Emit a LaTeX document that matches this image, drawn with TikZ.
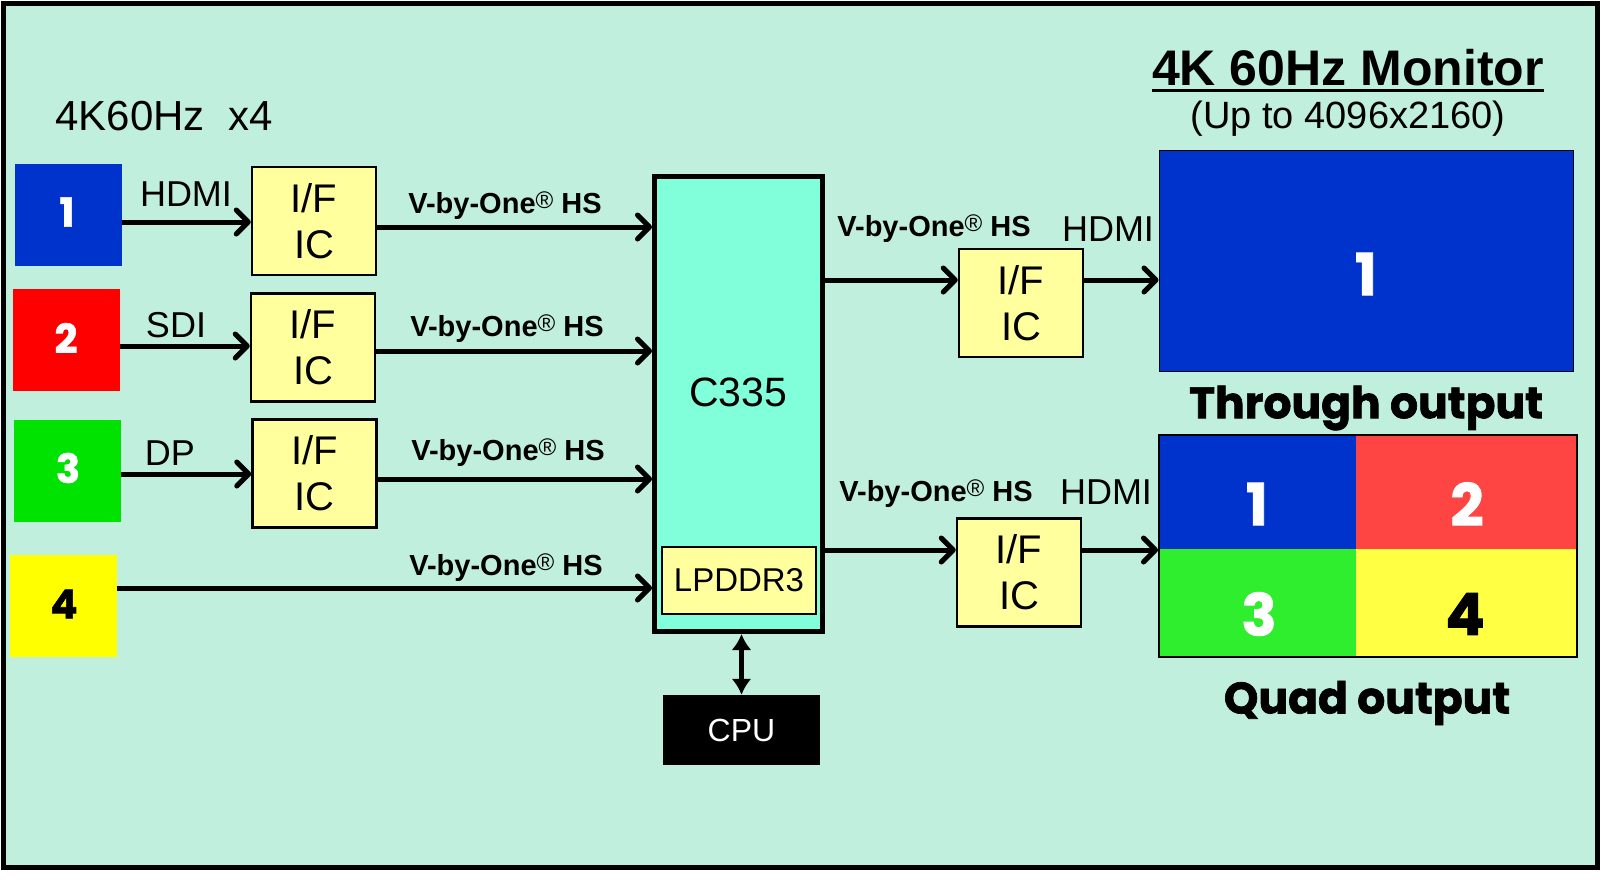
\documentclass[tikz,border=0pt]{standalone}
\usepackage{fontspec}
\setmainfont{Liberation Sans}
\newfontfamily\heavy{Poppins}[BoldFeatures={FakeBold=1.5}]
\usetikzlibrary{arrows.meta}
\definecolor{bgmint}{RGB}{192,239,222}
\definecolor{blueC}{RGB}{0,51,204}
\definecolor{redIn}{RGB}{255,0,0}
\definecolor{greenIn}{RGB}{0,226,0}
\definecolor{yellowIn}{RGB}{255,255,0}
\definecolor{redQ}{RGB}{255,68,68}
\definecolor{greenQ}{RGB}{46,238,46}
\definecolor{yellowQ}{RGB}{255,255,68}
\definecolor{aquaC}{RGB}{128,255,218}
\definecolor{ifY}{RGB}{255,255,158}
\newcommand{\vbo}{V-by-One{\mdseries\fontsize{24}{24}\selectfont\raisebox{5pt}{®}} HS}
\begin{document}
\begin{tikzpicture}[x=1pt,y=-1pt,
  inbox/.style={minimum width=107pt,minimum height=102pt,inner sep=0pt},
  numlab/.style={font=\heavy\bfseries\fontsize{40}{40}\selectfont,text=white,inner sep=0pt},
  bignum/.style={font=\heavy\bfseries\fontsize{58}{58}\selectfont,text=white,inner sep=0pt},
  ifbox/.style={draw,line width=2.5pt,fill=ifY,minimum width=124pt,minimum height=108pt,
    align=center,inner sep=0pt,font=\fontsize{40}{46}\selectfont},
  arr/.style={line width=5pt,-{Straight Barb[length=12pt,width=24pt,round]}},
  vlab/.style={font=\bfseries\fontsize{29}{29}\selectfont,inner sep=0pt},
  plab/.style={font=\fontsize{36}{36}\selectfont,inner sep=0pt},
  heavylab/.style={font=\heavy\bfseries\fontsize{44}{44}\selectfont,inner sep=0pt}
]
\useasboundingbox (0,0) rectangle (1601,895);
\fill[white] (0,0) rectangle (1601,895);
\draw[line width=5pt,fill=bgmint] (3,3) rectangle (1597,867);

% title left
\node[font=\fontsize{42}{42}\selectfont,inner sep=0pt] (ttl) at (164,116) {4K60Hz\ \ x4};

% inputs
\node[inbox,fill=blueC] (in1) at (68,215) {};
\node[inbox,fill=redIn] (in2) at (66,340) {};
\node[inbox,fill=greenIn] (in3) at (67.5,471) {};
\node[inbox,fill=yellowIn] (in4) at (63,606) {};
\node[numlab] (n1) at (67,212) {1};
\node[numlab] (n2) at (66,338) {2};
\node[numlab] (n3) at (68,468) {3};
\node[numlab,text=black] (n4) at (64,604) {4};

% IF ICs
\node[ifbox] (if1) at (314,221) {I/F\\IC};
\node[ifbox] (if2) at (313,347.5) {I/F\\IC};
\node[ifbox] (if3) at (314.5,473.5) {I/F\\IC};

% C335
\node[draw,line width=5pt,fill=aquaC,minimum width=168pt,minimum height=455pt,inner sep=0pt] (c335) at (738.5,404) {};
\node[font=\fontsize{41}{41}\selectfont,inner sep=0pt] (c335t) at (738,392) {C335};
\node[draw,line width=2.5pt,fill=ifY,minimum width=154pt,minimum height=67pt,inner sep=0pt,
  font=\fontsize{33}{33}\selectfont] (lp) at (739,580.5) {LPDDR3};
\node[fill=black,text=white,minimum width=157pt,minimum height=70pt,inner sep=0pt,
  font=\fontsize{32}{32}\selectfont] (cpu) at (741.5,730) {CPU};

% out IFs
\node[ifbox] (ifo1) at (1021,303) {I/F\\IC};
\node[ifbox] (ifo2) at (1019,572.5) {I/F\\IC};

% monitor
\node[font=\bfseries\fontsize{50}{50}\selectfont,inner sep=0pt,anchor=base] (mtitle) at (1348,85) {4K 60Hz Monitor};
\draw[line width=3pt] ([yshift=-5pt]mtitle.base west) -- ([yshift=-5pt]mtitle.base east);
\node[font=\fontsize{38}{38}\selectfont,inner sep=0pt] (msub) at (1348,119) {(Up to 4096x2160)};
\node[draw,line width=1pt,fill=blueC,minimum width=414pt,minimum height=221pt,inner sep=0pt] (mon) at (1366,260.5) {};
\node[bignum] (m1) at (1366,274) {1};
\node[heavylab] (thr) at (1366,408) {Through output};

% quad
\fill[blueC] (1159,435) rectangle (1356,549);
\fill[redQ] (1356,435) rectangle (1577,549);
\fill[greenQ] (1159,549) rectangle (1356,657);
\fill[yellowQ] (1356,549) rectangle (1577,657);
\node[draw,line width=2pt,minimum width=418pt,minimum height=222pt,inner sep=0pt] (quad) at (1368,546) {};
\node[bignum] (q1) at (1257,504) {1};
\node[bignum] (q2) at (1467,504) {2};
\node[bignum] (q3) at (1259,614) {3};
\node[bignum,text=black] (q4) at (1465,614) {4};
\node[heavylab] (qd) at (1367,703) {Quad output};

% input arrows + labels
\draw[arr] (in1.east |- 0,222) -- (if1.west |- 0,222);
\draw[arr] (in2.east |- 0,346) -- (if2.west |- 0,346);
\draw[arr] (in3.east |- 0,474) -- (if3.west |- 0,474);
\node[plab] (l1) at (186,194) {HDMI};
\node[plab] (l2) at (176,325) {SDI};
\node[plab] (l3) at (170,453) {DP};

% V-by-One arrows
\draw[arr] (if1.east |- 0,227) -- (c335.west |- 0,227);
\draw[arr] (if2.east |- 0,351) -- (c335.west |- 0,351);
\draw[arr] (if3.east |- 0,479) -- (c335.west |- 0,479);
\draw[arr] (in4.east |- 0,588) -- (c335.west |- 0,588);
\node[vlab] (v1) at (505,206) {\vbo};
\node[vlab] (v2) at (507,329) {\vbo};
\node[vlab] (v3) at (508,453) {\vbo};
\node[vlab] (v4) at (506,568) {\vbo};

% outputs
\draw[arr] (c335.east |- 0,280) -- (ifo1.west |- 0,280);
\draw[arr] (ifo1.east |- 0,280) -- (mon.west |- 0,280);
\draw[arr] (c335.east |- 0,550) -- (ifo2.west |- 0,550);
\draw[arr] (ifo2.east |- 0,550) -- (quad.west |- 0,550);
\node[vlab] (v5) at (934,229) {\vbo};
\node[vlab] (v6) at (936,494) {\vbo};
\node[plab] (h5) at (1108,229) {HDMI};
\node[plab] (h6) at (1106,492) {HDMI};

% CPU link
\draw[line width=5pt,{Latex[length=16pt,width=20pt]}-{Latex[length=16pt,width=20pt]}] (c335.south -| cpu.north) -- (cpu.north);
\end{tikzpicture}
\end{document}
